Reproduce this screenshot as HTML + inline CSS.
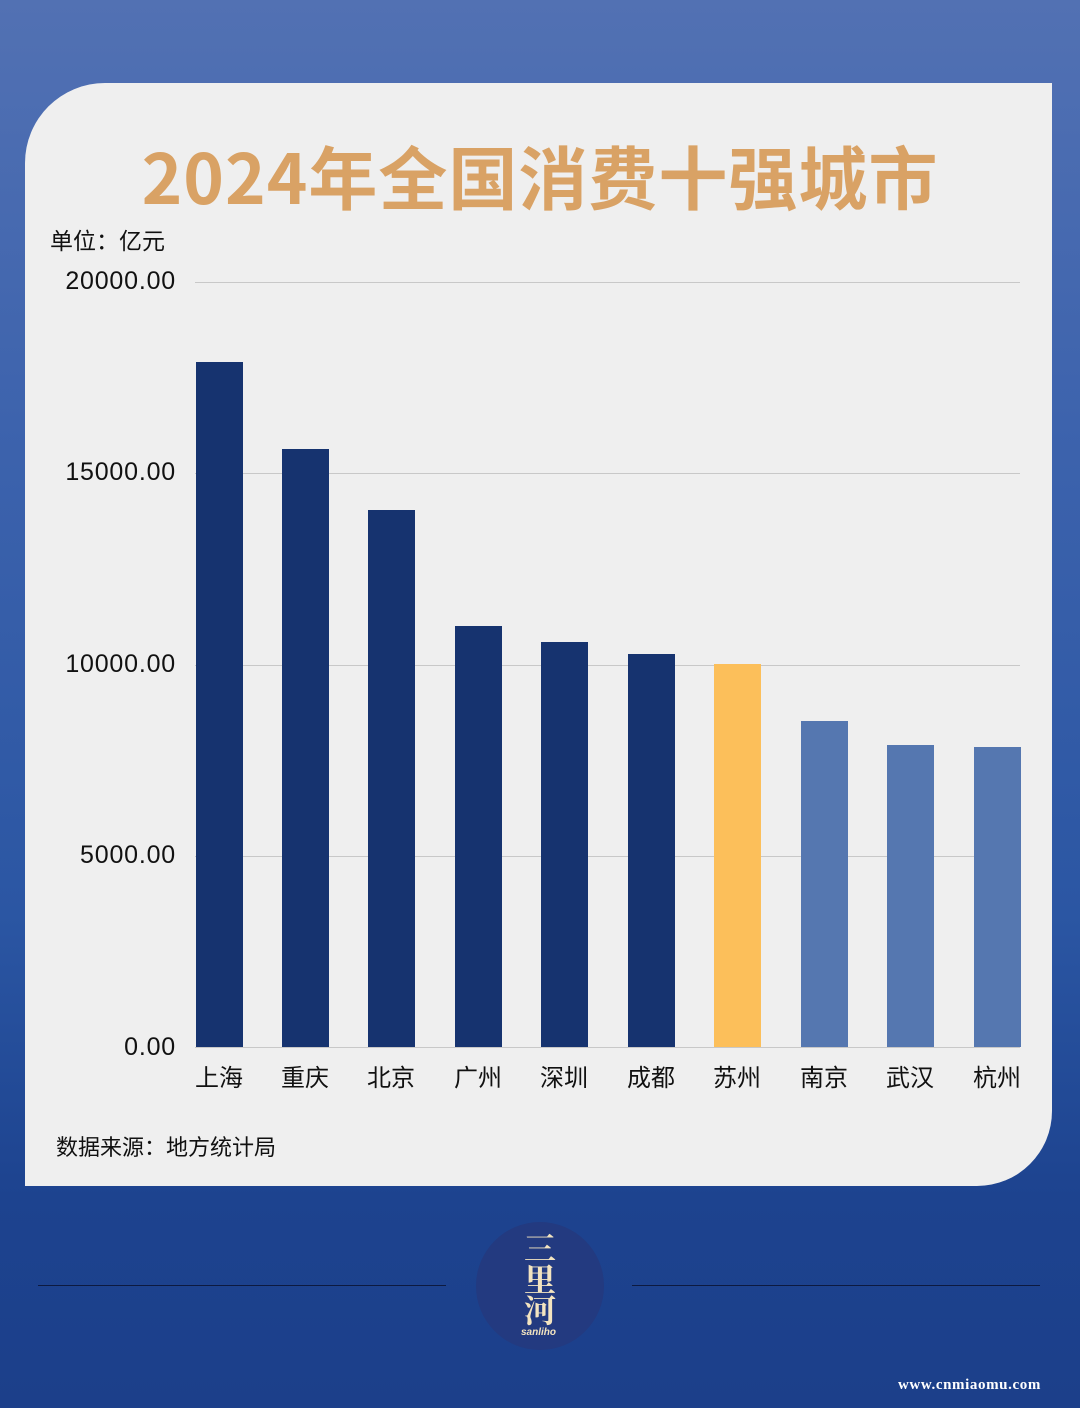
<!DOCTYPE html>
<html><head><meta charset="utf-8"><style>
*{margin:0;padding:0}
body{width:1080px;height:1408px;position:relative;overflow:hidden;font-family:"Liberation Sans","Noto Sans CJK SC",sans-serif;background:linear-gradient(180deg,#5271b3 0%,#3d63ad 30%,#2b56a3 65%,#1d438f 85%,#1c3f8a 100%)}
.card{position:absolute;left:25px;top:83px;width:1027px;height:1103px;background:#efefef;border-radius:80px 0 75px 0}
.t{position:absolute;white-space:nowrap}
.title{left:0;width:1080px;top:124px;text-align:center;font-size:69px;font-weight:bold;color:#d9a265;letter-spacing:1px;font-family:"Noto Sans CJK SC",sans-serif}
.yl{width:130px;text-align:right;left:46px;font-size:25px;letter-spacing:0.8px;color:#111}
.grid{position:absolute;left:195px;width:825px;height:1px;background:#c8c8c8}
.bar{position:absolute;width:47px;bottom:361px}
.xl{position:absolute;top:1058px;width:80px;text-align:center;font-size:24px;color:#111}
.line{position:absolute;top:1285px;height:1px;background:#0d1a40}
</style></head><body>
<div class="card"></div>
<div class="t title">2024年全国消费十强城市</div>
<div class="t" style="left:50px;top:222px;font-size:23px;color:#111">单位：亿元</div>
<div class="t yl" style="top:267px">20000.00</div>
<div class="t yl" style="top:458px">15000.00</div>
<div class="t yl" style="top:650px">10000.00</div>
<div class="t yl" style="top:841px">5000.00</div>
<div class="t yl" style="top:1033px">0.00</div>
<div class="grid" style="top:282px"></div>
<div class="grid" style="top:473px"></div>
<div class="grid" style="top:665px"></div>
<div class="grid" style="top:856px"></div>
<div class="grid" style="top:1047px"></div>
<div class="bar" style="left:196px;top:362px;background:#16336f"></div>
<div class="bar" style="left:282px;top:449px;background:#16336f"></div>
<div class="bar" style="left:368px;top:510px;background:#16336f"></div>
<div class="bar" style="left:455px;top:626px;background:#16336f"></div>
<div class="bar" style="left:541px;top:642px;background:#16336f"></div>
<div class="bar" style="left:628px;top:654px;background:#16336f"></div>
<div class="bar" style="left:714px;top:664px;background:#fcbf5a"></div>
<div class="bar" style="left:801px;top:721px;background:#5577b0"></div>
<div class="bar" style="left:887px;top:745px;background:#5577b0"></div>
<div class="bar" style="left:974px;top:747px;background:#5577b0"></div>
<div class="xl" style="left:179px">上海</div>
<div class="xl" style="left:265px">重庆</div>
<div class="xl" style="left:351px">北京</div>
<div class="xl" style="left:438px">广州</div>
<div class="xl" style="left:524px">深圳</div>
<div class="xl" style="left:611px">成都</div>
<div class="xl" style="left:697px">苏州</div>
<div class="xl" style="left:784px">南京</div>
<div class="xl" style="left:870px">武汉</div>
<div class="xl" style="left:957px">杭州</div>
<div class="t" style="left:56px;top:1130px;font-size:22px;color:#111">数据来源：地方统计局</div>
<div class="line" style="left:38px;width:408px"></div>
<div class="line" style="left:632px;width:408px"></div>
<div style="position:absolute;left:476px;top:1222px;width:128px;height:128px;border-radius:50%;background:#233a80"></div>
<div class="t" style="left:521px;top:1232px;font-size:32px;line-height:31px;color:#f3e4c0;font-weight:bold;font-family:'Noto Serif CJK SC',serif;width:38px;text-align:center;white-space:normal">三<br>里<br>河</div>
<div class="t" style="left:521px;top:1327px;font-size:10px;color:#f3e4c0;font-style:italic;font-weight:bold">sanliho</div>
<div class="t" style="left:898px;top:1377px;font-size:15px;letter-spacing:0.6px;color:#fff;font-weight:bold;font-family:'Liberation Serif',serif">www.cnmiaomu.com</div>
</body></html>
